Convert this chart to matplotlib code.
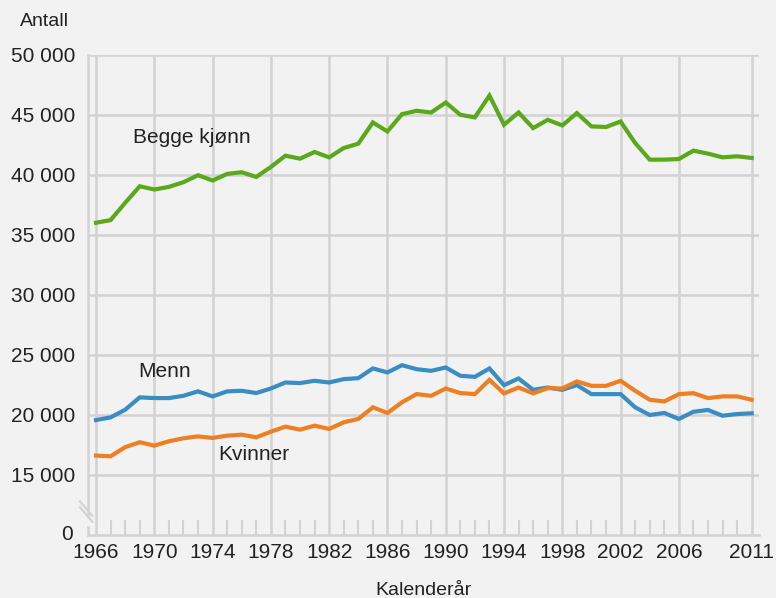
import numpy as np
import matplotlib
matplotlib.use("Agg")
import matplotlib.pyplot as plt
from matplotlib.lines import Line2D

plt.rcParams['font.family'] = ['Liberation Sans', 'DejaVu Sans']

years = list(range(1966, 2012))

begge = [36020, 36240, 37680, 39060, 38790, 39010, 39400, 39980, 39540, 40090,
         40230, 39840, 40670, 41610, 41360, 41920, 41470, 42250, 42610, 44380,
         43630, 45070, 45350, 45210, 46040, 45020, 44800, 46620, 44190, 45210,
         43910, 44600, 44130, 45160, 44050, 44000, 44460, 42670, 41280, 41280,
         41330, 42030, 41780, 41470, 41560, 41420]
menn = [19580, 19800, 20440, 21470, 21410, 21410, 21600, 21970, 21550, 21970,
        22020, 21830, 22210, 22710, 22660, 22850, 22710, 22990, 23070, 23880,
        23550, 24150, 23820, 23680, 23960, 23270, 23180, 23880, 22490, 23040,
        22100, 22290, 22100, 22490, 21740, 21740, 21740, 20640, 20000, 20170,
        19670, 20270, 20420, 19940, 20080, 20140]
kvinner = [16620, 16560, 17320, 17730, 17450, 17810, 18060, 18220, 18090, 18280,
           18360, 18140, 18610, 19030, 18780, 19110, 18840, 19390, 19670, 20640,
           20170, 21060, 21740, 21600, 22210, 21830, 21740, 22930, 21800, 22290,
           21800, 22240, 22210, 22800, 22430, 22430, 22850, 22020, 21270, 21130,
           21740, 21820, 21410, 21550, 21550, 21270]

xtick_years = [1966, 1970, 1974, 1978, 1982, 1986, 1990, 1994, 1998, 2002, 2006, 2011]
ytick_values = [0, 15000, 20000, 25000, 30000, 35000, 40000, 45000, 50000]


# broken axis: 0 sits one step below 15 000
def brk(v):
    v = np.asarray(v, dtype=float)
    return np.where(v < 15000, 10000 + v * 0, v)


bg = '#f2f2f2'
grid_c = '#d2d2d2'
fig = plt.figure(figsize=(7.76, 5.98), dpi=100, facecolor=bg)
ax = fig.add_axes([88 / 776, 63 / 598, 671 / 776, 480 / 598], facecolor=bg)

ax.plot(years, brk(begge), color='#5aa81c', lw=3, solid_joinstyle='miter', zorder=3)
ax.plot(years, brk(menn), color='#3a8dc3', lw=3, solid_joinstyle='miter', zorder=3)
ax.plot(years, brk(kvinner), color='#ee7f22', lw=3, solid_joinstyle='miter', zorder=3)

ax.set_xlim(1965.45, 2011.5)
ax.set_ylim(10000, 50000)

for y in ytick_values[1:]:
    ax.axhline(y, color=grid_c, lw=1.8, zorder=1)
for x in xtick_years:
    ax.axvline(x, color=grid_c, lw=1.8, zorder=1)

ax.set_xticks(xtick_years)
ax.set_xticks(years, minor=True)
ax.set_yticks(brk(ytick_values))
ax.set_yticklabels(['0' if v == 0 else f'{v:,}'.replace(',', ' ') for v in ytick_values])
ax.tick_params(axis='y', length=0, pad=9, labelsize=15, labelcolor='#222222')
ax.tick_params(axis='x', which='major', length=0, pad=6, labelsize=15, labelcolor='#222222')
ax.tick_params(axis='x', which='minor', direction='in', length=11, width=1.5, color=grid_c)
zero_lab = ax.get_yticklabels()[0]
zero_lab.set_verticalalignment('center')
zero_lab.set_x(-0.004)

for s in ['top', 'right', 'left']:
    ax.spines[s].set_visible(False)
ax.spines['bottom'].set_color(grid_c)
ax.spines['bottom'].set_linewidth(1.8)

# left axis with break marks
ax.add_line(Line2D([1965.45, 1965.45], [11600, 50000], color=grid_c, lw=1.8, clip_on=False))
ax.add_line(Line2D([1965.45, 1965.45], [10000, 10700], color=grid_c, lw=1.8, clip_on=False))
ax.add_line(Line2D([1964.9, 1965.75], [12300, 11100], color=grid_c, lw=1.5, clip_on=False))
ax.add_line(Line2D([1964.9, 1965.75], [12800, 11600], color=grid_c, lw=1.5, clip_on=False))

ax.text(1972.6, 43100, 'Begge kjønn', fontsize=15, color='#222222', ha='center', va='center')
ax.text(1970.7, 23650, 'Menn', fontsize=15, color='#222222', ha='center', va='center')
ax.text(1976.8, 16750, 'Kvinner', fontsize=15, color='#222222', ha='center', va='center')

fig.text(20 / 776, 1 - 22 / 598, 'Antall', fontsize=14, color='#222222', va='center')
ax.set_xlabel('Kalenderår', fontsize=14, color='#222222', labelpad=14)

fig.savefig('out.png', dpi=100, facecolor=bg)
